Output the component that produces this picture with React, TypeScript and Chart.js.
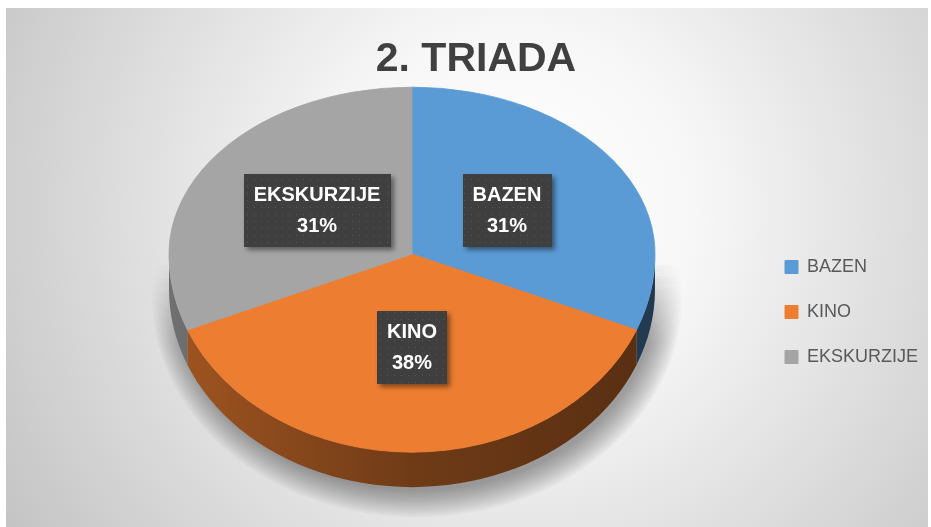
import React, { useEffect, useRef } from 'react';
import { Chart, registerables } from 'chart.js';

Chart.register(...registerables);

const chartTitle = '2. TRIADA';
const categories = ['BAZEN', 'KINO', 'EKSKURZIJE'];
const values = [5, 6, 5];
const colors = ['#5B9BD5', '#ED7D31', '#A5A5A5'];

const TILT_TOP = 0.687;
const TILT_BOTTOM = 0.815;
const DEPTH = 35;
const LABEL_POS = 0.47;
const FONT = "'Liberation Sans', Arial, sans-serif";

function shade(hex: string, f: number) {
  const n = parseInt(hex.slice(1), 16);
  const r = Math.round(((n >> 16) & 255) * f);
  const g = Math.round(((n >> 8) & 255) * f);
  const b = Math.round((n & 255) * f);
  return `rgb(${r},${g},${b})`;
}

export default function App() {
  const ref = useRef<HTMLCanvasElement>(null);

  useEffect(() => {
    const canvas = ref.current;
    if (!canvas) return;
    const total = values.reduce((a, b) => a + b, 0);

    const bgPlugin = {
      id: 'bgPlugin',
      afterLayout(chart: any) {
        // let the legend text run into the right padding instead of being clipped
        const lg = chart.legend;
        if (lg) {
          lg.right = chart.width;
          lg.width = lg.right - lg.left;
        }
      },
      beforeDraw(chart: any) {
        const { ctx, width, height } = chart;
        const g = ctx.createRadialGradient(510, 200, 0, 510, 200, 600);
        g.addColorStop(0, '#ffffff');
        g.addColorStop(0.3, '#f7f7f7');
        g.addColorStop(1, '#c4c4c4');
        ctx.save();
        ctx.fillStyle = g;
        ctx.fillRect(0, 0, width, height);
        ctx.restore();
      },
    };

    const pie3d = {
      id: 'pie3d',
      beforeDatasetsDraw(chart: any) {
        const meta = chart.getDatasetMeta(0);
        const arcs = meta.data as any[];
        if (!arcs.length) return;
        const { x: cx, y: cy, outerRadius: r } = arcs[0];
        const ctx = chart.ctx as CanvasRenderingContext2D;
        const ry = r * TILT_BOTTOM;

        // soft shadow under the pie (stacked translucent ellipses, fading upward)
        ctx.save();
        const sg = ctx.createLinearGradient(0, cy + 5, 0, cy + 90);
        sg.addColorStop(0, 'rgba(0,0,0,0)');
        sg.addColorStop(1, 'rgba(0,0,0,0.03)');
        ctx.fillStyle = sg;
        const steps = 14;
        for (let k = 0; k < steps; k++) {
          const grow = 22 - k * 2;
          ctx.beginPath();
          ctx.ellipse(cx + 5, cy + DEPTH + 8, r + grow, ry + grow, 0, 0, Math.PI * 2);
          ctx.fill();
        }
        ctx.restore();

        // extruded sides
        arcs.forEach((arc, i) => {
          const a1 = Math.max(arc.startAngle, 0);
          const a2 = Math.min(arc.endAngle, Math.PI);
          if (a2 <= a1) return;
          const c = colors[i];
          const g = ctx.createLinearGradient(cx - r, 0, cx + r, 0);
          g.addColorStop(0, shade(c, 0.68));
          g.addColorStop(0.5, shade(c, 0.47));
          g.addColorStop(1, shade(c, 0.37));
          ctx.save();
          ctx.fillStyle = g;
          ctx.beginPath();
          ctx.ellipse(cx, cy, r, ry, 0, a1, a2);
          ctx.ellipse(cx, cy + DEPTH, r, ry, 0, a2, a1, true);
          ctx.closePath();
          ctx.fill();
          ctx.restore();
        });

        // upper half of the top face (far side, flatter)
        ctx.save();
        ctx.beginPath();
        ctx.rect(0, 0, chart.width, cy);
        ctx.clip();
        ctx.translate(0, cy);
        ctx.scale(1, TILT_TOP);
        ctx.translate(0, -cy);
      },
      afterDatasetsDraw(chart: any) {
        const ctx = chart.ctx as CanvasRenderingContext2D;
        ctx.restore();
        const meta = chart.getDatasetMeta(0);
        const arcs = meta.data as any[];
        if (!arcs.length) return;
        const { x: cx, y: cy, outerRadius: r } = arcs[0];

        // lower half of the top face (near side)
        ctx.save();
        ctx.beginPath();
        ctx.rect(0, cy, chart.width, chart.height - cy);
        ctx.clip();
        ctx.translate(0, cy);
        ctx.scale(1, TILT_BOTTOM);
        ctx.translate(0, -cy);
        meta.controller.draw();
        ctx.restore();

        // data labels
        const pc = document.createElement('canvas');
        pc.width = 7;
        pc.height = 7;
        const pctx = pc.getContext('2d')!;
        pctx.fillStyle = '#3f3f3f';
        pctx.fillRect(0, 0, 7, 7);
        pctx.fillStyle = '#575757';
        pctx.fillRect(3, 3, 1, 1);
        const pattern = ctx.createPattern(pc, 'repeat')!;

        ctx.save();
        ctx.font = `bold 20px ${FONT}`;
        arcs.forEach((arc, i) => {
          const mid = (arc.startAngle + arc.endAngle) / 2;
          const lx = cx + Math.cos(mid) * r * LABEL_POS;
          const dy = Math.sin(mid) * r * LABEL_POS;
          const ly = cy + dy * (dy < 0 ? TILT_TOP : TILT_BOTTOM);
          const lines = [categories[i], Math.round((values[i] / total) * 100) + '%'];
          const tw = Math.max(...lines.map((t) => ctx.measureText(t).width));
          const w = tw + 20;
          const h = 73;
          ctx.save();
          ctx.shadowColor = 'rgba(0,0,0,0.45)';
          ctx.shadowBlur = 5;
          ctx.shadowOffsetX = 3;
          ctx.shadowOffsetY = 3;
          ctx.fillStyle = pattern;
          ctx.fillRect(Math.round(lx - w / 2), Math.round(ly - h / 2), Math.round(w), h);
          ctx.restore();
          ctx.fillStyle = '#ffffff';
          ctx.textAlign = 'center';
          ctx.textBaseline = 'middle';
          ctx.fillText(lines[0], lx, ly - 15);
          ctx.fillText(lines[1], lx, ly + 16);
        });
        ctx.restore();
      },
    };

    const chart = new Chart(canvas, {
      type: 'pie',
      data: {
        labels: categories,
        datasets: [
          {
            data: values,
            backgroundColor: colors,
            borderColor: colors,
            borderWidth: 1,
            radius: 243,
            clip: false,
          } as any,
        ],
      },
      options: {
        animation: false,
        responsive: false,
        devicePixelRatio: 1,
        events: [],
        layout: { padding: { left: 60, right: 42, top: 0, bottom: 103 } },
        plugins: {
          tooltip: { enabled: false },
          title: {
            display: true,
            text: chartTitle,
            color: '#404040',
            font: { family: FONT, size: 41, weight: 'bold' },
            padding: { top: 27, bottom: 0 },
          },
          legend: {
            display: true,
            position: 'right',
            maxWidth: 128,
            title: {
              display: true,
              text: ' ',
              font: { size: 12 },
              padding: { top: 0, bottom: 177.6 },
            },
            labels: {
              boxWidth: 13,
              boxHeight: 13,
              padding: 27,
              color: '#595959',
              font: { family: FONT, size: 18 },
            },
          },
        },
      } as any,
      plugins: [bgPlugin, pie3d],
    });
    return () => chart.destroy();
  }, []);

  return (
    <div style={{ position: 'absolute', left: 6, top: 8, width: 922, height: 519 }}>
      <canvas ref={ref} width={922} height={519} style={{ display: 'block' }} />
    </div>
  );
}
